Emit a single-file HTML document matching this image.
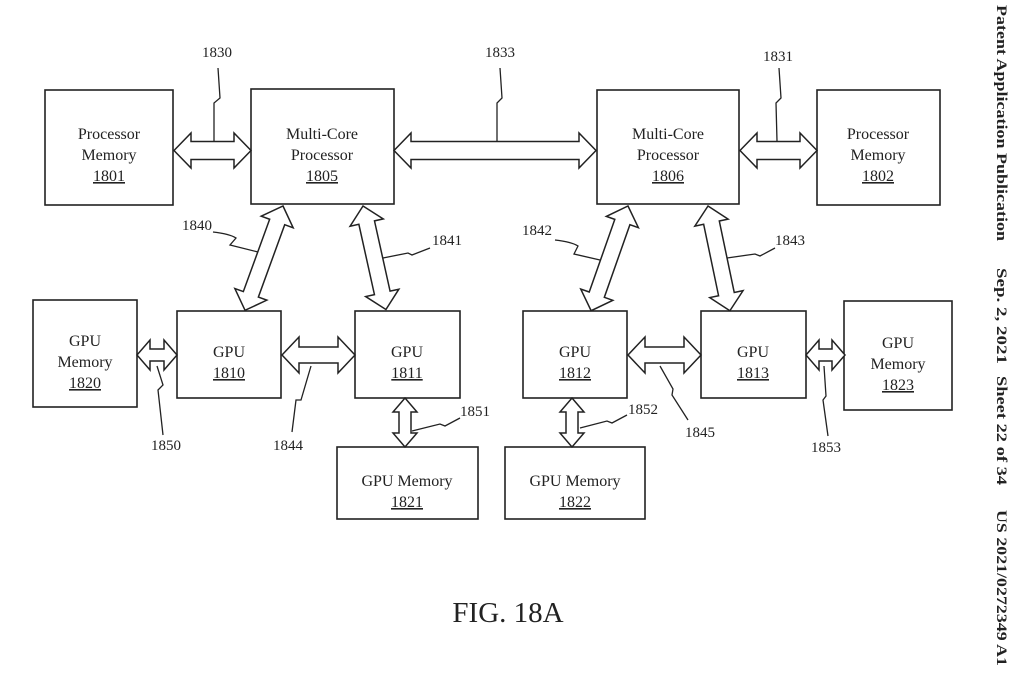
<!DOCTYPE html>
<html><head><meta charset="utf-8"><style>
html,body{margin:0;padding:0;background:#fff;}
svg{display:block;font-family:"Liberation Serif",serif;}
</style></head><body>
<svg width="1024" height="679" viewBox="0 0 1024 679" xmlns="http://www.w3.org/2000/svg">
<g fill="none" stroke="#222" stroke-width="1.6">
<rect x="45" y="90" width="128" height="115"/>
<rect x="251" y="89" width="143" height="115"/>
<rect x="597" y="90" width="142" height="114"/>
<rect x="817" y="90" width="123" height="115"/>
<rect x="33" y="300" width="104" height="107"/>
<rect x="177" y="311" width="104" height="87"/>
<rect x="355" y="311" width="105" height="87"/>
<rect x="523" y="311" width="104" height="87"/>
<rect x="701" y="311" width="105" height="87"/>
<rect x="844" y="301" width="108" height="109"/>
<rect x="337" y="447" width="141" height="72"/>
<rect x="505" y="447" width="140" height="72"/>
</g>
<g fill="#fff" stroke="#222" stroke-width="1.5" stroke-linejoin="miter">
<polygon transform="translate(174,150.5)" points="0,0 17,-17.5 17,-9 60,-9 60,-17.5 77,0 60,17.5 60,9 17,9 17,17.5"/>
<polygon transform="translate(394,150.5)" points="0,0 17,-17.5 17,-9 185,-9 185,-17.5 202,0 185,17.5 185,9 17,9 17,17.5"/>
<polygon transform="translate(740,150.5)" points="0,0 17,-17.5 17,-9 60,-9 60,-17.5 77,0 60,17.5 60,9 17,9 17,17.5"/>
<polygon transform="translate(282,355)" points="0,0 17,-18 17,-8 56,-8 56,-18 73,0 56,18 56,8 17,8 17,18"/>
<polygon transform="translate(628,355)" points="0,0 17,-18 17,-8 56,-8 56,-18 73,0 56,18 56,8 17,8 17,18"/>
<polygon transform="translate(283,206) rotate(110)" points="0,0 17,-17 17,-8 94,-8 94,-17 111,0 94,17 94,8 17,8 17,17"/>
<polygon transform="translate(363,206) rotate(77.5)" points="0,0 17,-17 17,-8 89,-8 89,-17 106,0 89,17 89,8 17,8 17,17"/>
<polygon transform="translate(628,206) rotate(109.4)" points="0,0 17,-17 17,-8 94,-8 94,-17 111,0 94,17 94,8 17,8 17,17"/>
<polygon transform="translate(708,206) rotate(78.2)" points="0,0 17,-17 17,-8 90,-8 90,-17 107,0 90,17 90,8 17,8 17,17"/>
<polygon transform="translate(137,355)" points="0,0 13,-15 13,-6 27,-6 27,-15 40,0 27,15 27,6 13,6 13,15"/>
<polygon transform="translate(806,355)" points="0,0 13,-15 13,-6 26,-6 26,-15 39,0 26,15 26,6 13,6 13,15"/>
<polygon transform="translate(405,398) rotate(90)" points="0,0 14,-12 14,-6 35,-6 35,-12 49,0 35,12 35,6 14,6 14,12"/>
<polygon transform="translate(572,398) rotate(90)" points="0,0 14,-12 14,-6 35,-6 35,-12 49,0 35,12 35,6 14,6 14,12"/>
</g>
<g fill="none" stroke="#222" stroke-width="1.3">
<path d="M218,68 L220,98 L214,103 L214,141"/>
<path d="M500,68 L502,98 L497,103 L497,141"/>
<path d="M779,68 L781,98 L776,103 L777,141"/>
<path d="M213,232 Q230,234 236,238 L230,245 L258,252"/>
<path d="M430,248 L412,255 L408,253 L383,258"/>
<path d="M555,240 Q572,242 578,246 L574,254 L600,260"/>
<path d="M775,248 L760,256 L755,254 L727,258"/>
<path d="M163,435 L158,390 L163,385 L157,366"/>
<path d="M292,432 L296,400 L301,400 L311,366"/>
<path d="M460,418 L445,426 L440,424 L412,431"/>
<path d="M627,415 L612,423 L607,421 L580,428"/>
<path d="M688,420 L672,395 L673,389 L660,366"/>
<path d="M828,436 L823,400 L826,396 L824,366"/>
</g>
<g font-size="16" text-anchor="middle" fill="#222">
<text x="109" y="139">Processor</text><text x="109" y="160">Memory</text><text x="109" y="181" text-decoration="underline">1801</text>
<text x="322" y="139">Multi-Core</text><text x="322" y="160">Processor</text><text x="322" y="181" text-decoration="underline">1805</text>
<text x="668" y="139">Multi-Core</text><text x="668" y="160">Processor</text><text x="668" y="181" text-decoration="underline">1806</text>
<text x="878" y="139">Processor</text><text x="878" y="160">Memory</text><text x="878" y="181" text-decoration="underline">1802</text>
<text x="85" y="346">GPU</text><text x="85" y="367">Memory</text><text x="85" y="388" text-decoration="underline">1820</text>
<text x="229" y="357">GPU</text><text x="229" y="378" text-decoration="underline">1810</text>
<text x="407" y="357">GPU</text><text x="407" y="378" text-decoration="underline">1811</text>
<text x="575" y="357">GPU</text><text x="575" y="378" text-decoration="underline">1812</text>
<text x="753" y="357">GPU</text><text x="753" y="378" text-decoration="underline">1813</text>
<text x="898" y="348">GPU</text><text x="898" y="369">Memory</text><text x="898" y="390" text-decoration="underline">1823</text>
<text x="407" y="486">GPU Memory</text><text x="407" y="507" text-decoration="underline">1821</text>
<text x="575" y="486">GPU Memory</text><text x="575" y="507" text-decoration="underline">1822</text>
</g>
<g font-size="15" text-anchor="middle" fill="#222">
<text x="217" y="57">1830</text>
<text x="500" y="57">1833</text>
<text x="778" y="61">1831</text>
<text x="197" y="230">1840</text>
<text x="447" y="245">1841</text>
<text x="537" y="235">1842</text>
<text x="790" y="245">1843</text>
<text x="166" y="450">1850</text>
<text x="288" y="450">1844</text>
<text x="475" y="416">1851</text>
<text x="643" y="414">1852</text>
<text x="700" y="437">1845</text>
<text x="826" y="452">1853</text>
</g>
<text x="508" y="622" font-size="29" text-anchor="middle" fill="#222">FIG. 18A</text>
<g font-size="15" font-weight="bold" fill="#222">
<text transform="translate(997,5) rotate(90)" textLength="236" lengthAdjust="spacingAndGlyphs">Patent Application Publication</text>
<text transform="translate(997,268) rotate(90)" textLength="96" lengthAdjust="spacingAndGlyphs">Sep. 2, 2021</text>
<text transform="translate(997,376) rotate(90)" textLength="109" lengthAdjust="spacingAndGlyphs">Sheet 22 of 34</text>
<text transform="translate(997,510) rotate(90)" textLength="156" lengthAdjust="spacingAndGlyphs">US 2021/0272349 A1</text>
</g>
</svg>
</body></html>
